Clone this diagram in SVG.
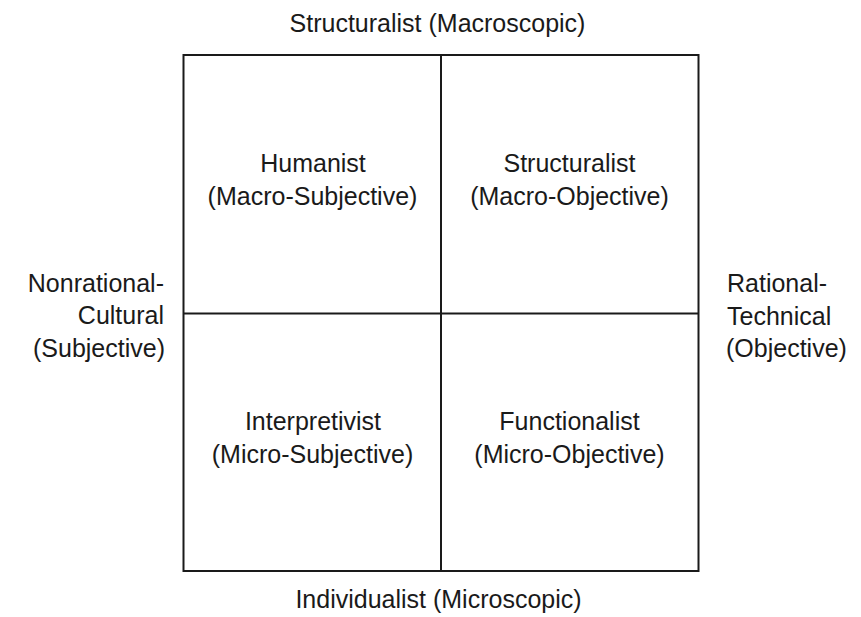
<svg xmlns="http://www.w3.org/2000/svg" width="861" height="617" viewBox="0 0 861 617">
<style>
text{font-family:"Liberation Sans",Arial,sans-serif;font-size:25px;fill:#1a1a1a}
.c{text-anchor:middle}
.r{text-anchor:end}
.ln{stroke:#1a1a1a;stroke-width:2;fill:none}
</style>
<rect width="861" height="617" fill="#fff"/>
<g id="connectors">
<rect class="ln" x="183.5" y="55" width="515" height="516"/>
<line class="ln" x1="441" y1="55" x2="441" y2="571"/>
<line class="ln" x1="183.5" y1="313.5" x2="698.5" y2="313.5"/>
</g>
<g id="axis-top"><text class="c" x="437.5" y="32">Structuralist (Macroscopic)</text></g>
<g id="axis-bottom"><text class="c" x="438.5" y="608">Individualist (Microscopic)</text></g>
<g id="axis-left">
<text class="r" x="164" y="292">Nonrational-</text>
<text class="r" x="164" y="324">Cultural</text>
<text class="r" x="165" y="357">(Subjective)</text>
</g>
<g id="axis-right">
<text x="727" y="292">Rational-</text>
<text x="727" y="325">Technical</text>
<text x="726" y="357">(Objective)</text>
</g>
<g id="humanist">
<text class="c" x="313" y="172">Humanist</text>
<text class="c" x="312.5" y="205">(Macro-Subjective)</text>
</g>
<g id="structuralist">
<text class="c" x="569.5" y="172">Structuralist</text>
<text class="c" x="569.5" y="205">(Macro-Objective)</text>
</g>
<g id="interpretivist">
<text class="c" x="313" y="430">Interpretivist</text>
<text class="c" x="312.5" y="463">(Micro-Subjective)</text>
</g>
<g id="functionalist">
<text class="c" x="569.5" y="430">Functionalist</text>
<text class="c" x="569.5" y="463">(Micro-Objective)</text>
</g>
</svg>
